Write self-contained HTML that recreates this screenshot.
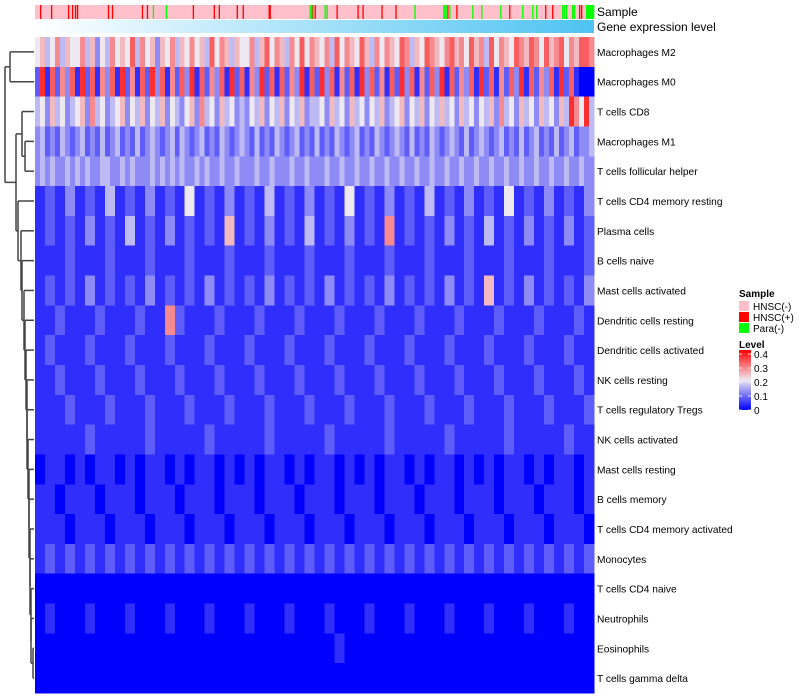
<!DOCTYPE html>
<html><head><meta charset="utf-8"><style>
body{margin:0;background:#fff;}
svg{display:block;font-family:"Liberation Sans",sans-serif;}
</style></head><body>
<svg id="chart" width="800" height="700"></svg>
<script>
// ---- data ----
const rowNames=["Macrophages M2","Macrophages M0","T cells CD8","Macrophages M1","T cells follicular helper","T cells CD4 memory resting","Plasma cells","B cells naive","Mast cells activated","Dendritic cells resting","Dendritic cells activated","NK cells resting","T cells regulatory  Tregs","NK cells activated","Mast cells resting","B cells memory","T cells CD4 memory activated","Monocytes","T cells CD4 naive","Neutrophils","Eosinophils","T cells gamma delta"];
// level per column bin, digit d -> d*0.04
const rowLevels=[
"5645746557463547565847563657465756485764655746857647585765748576586475765874658765786758674857658768758678576887",
"2918273819281738192718293817283918273819281739281827391829381728193827182938172839182738192817283918273819281000",
"4536453456374534563546354635435637453645343546354635463445364536453546345635463546453645354637453645364536497594",
"3423243234232423423242343234243234232432343242324323423242324323423243234324232432343242343234232423423242342334",
"3434334343433443343433343434343343433433433343343334334333433433433433433433433433433433433433433433433433433433",
"12131214121312151213121412131215121312141213121512131213",
"12121312141213121216121312141213121712121312141213121312",
"11121112111211121112111211121112111211121112111211121112",
"12121312121312121312121312121312121312121312161213121213",
"11211121112117211121112111211121112111211121112111211121",
"12111211121112111211121112111211121112111211121112111211",
"11211121112111211121112111211121112111211121112111211121",
"11121112111211121112111211121112111211121112111211121112",
"11111211111211111211111211111211111211111211111211111211",
"01101011010110101101010110101101010110101101010110101101",
"11011101110111011101110111011101110111011101110111011101",
"11101110111011101110111011101110111011101110111011101110",
"12121212121212121212121212121212121212121212121212121212",
"00000000000000000000000000000000000000000000000000000000",
"01000100010001000100010001000100010001000100010001000100",
"00000000000000000000000000000010000000000000000000000000",
"00000000000000000000000000000000000000000000000000000000"];
const numSamples=560;
const hnscPosIdx=[5,16,33,37,40,42,73,77,107,112,158,179,184,202,208,234,235,277,280,302,323,328,347,361,410,413,422,475,511,518,538,545,547];
const paraIdx=[118,131,275,278,290,292,380,409,410,412,415,438,447,466,488,498,502,528,530,532,538,540,552,553,554,555,556,557,558,559];
const levelTicks=[0,0.1,0.2,0.3,0.4];
const mergeX=[10,22,25,5,16,18,21,22,24,25,26,27,27,28,29,29,30,30,31,31,32,33];
// ---- layout ----
const NS="http://www.w3.org/2000/svg";
const svg=document.getElementById('chart');
const HX0=35,HX1=594,HY0=37,HY1=693;
const rowH=(HY1-HY0)/rowNames.length;
function yRow(i){return HY0+rowH*i;}
function xSample(i){return HX0+(HX1-HX0)*i/numSamples;}
function mk(tag,attrs,parent){const e=document.createElementNS(NS,tag);for(const k in attrs)e.setAttribute(k,attrs[k]);(parent||svg).appendChild(e);return e;}
function col(v){
  const t=Math.max(0,Math.min(1,v/0.4));
  let r,g,b;
  if(t<0.5){const u=t/0.5;r=Math.round(0+u*238);g=Math.round(0+u*232);b=Math.round(255-u*15);}
  else{const u=(t-0.5)/0.5;r=Math.round(238+u*17);g=Math.round(232-u*232);b=Math.round(240-u*240);}
  return `rgb(${r},${g},${b})`;
}
// annotation
const ann=mk('g',{});


mk('rect',{x:HX0,y:5,width:HX1-HX0,height:14,fill:'#ffc0cb'},ann);
hnscPosIdx.forEach(i=>{const r=mk('rect',{x:xSample(i),y:5,width:1.3,height:14,fill:'#ff0000'},ann);});
paraIdx.forEach(i=>{const r=mk('rect',{x:xSample(i),y:5,width:1.3,height:14,fill:'#00ff00'},ann);});
const defs=mk('defs',{});
const lg=mk('linearGradient',{id:'gexp',x1:0,x2:1,y1:0,y2:0},defs);
mk('stop',{offset:0,'stop-color':'#ffffff'},lg);mk('stop',{offset:1,'stop-color':'#4ec3f2'},lg);
const lg2=mk('linearGradient',{id:'lvl',x1:0,x2:0,y1:1,y2:0},defs);
[0,0.25,0.5,0.75,1].forEach(o=>mk('stop',{offset:o,'stop-color':col(o*0.4)},lg2));
const gbar=mk('rect',{x:HX0,y:20,width:HX1-HX0,height:13,fill:'url(#gexp)'});


const t1=mk('text',{x:597,y:16,'font-size':12});t1.textContent='Sample';


const t2=mk('text',{x:597,y:31,'font-size':12});t2.textContent='Gene expression level';


// heatmap cells
const hm=mk('g',{'shape-rendering':'crispEdges'});


rowLevels.forEach((s,ri)=>{
  const n=s.length,w=(HX1-HX0)/n;
  for(let j=0;j<n;j++){
    const v=parseInt(s[j],10)*0.04;
    const c=mk('rect',{x:HX0+j*w,y:yRow(ri),width:w+0.5,height:rowH+0.5,fill:col(v)},hm);
    
    
  }
  const t=mk('text',{x:597,y:yRow(ri)+rowH/2+4,'font-size':10.2,fill:'#000'});
  t.textContent=rowNames[ri];
  
  
});
// dendrogram
const dg=mk('g',{stroke:'#444','stroke-width':1.5,fill:'none'});


function cy(i){return yRow(i)+rowH/2;}
function seg(x1,y1,x2,y2){mk('line',{x1,y1,x2,y2},dg);}
const LX=34;
seg(mergeX[0],cy(0),LX,cy(0));seg(mergeX[0],cy(1),LX,cy(1));seg(mergeX[0],cy(0),mergeX[0],cy(1));
const n01=(cy(0)+cy(1))/2;
seg(mergeX[2],cy(3),LX,cy(3));seg(mergeX[2],cy(4),LX,cy(4));seg(mergeX[2],cy(3),mergeX[2],cy(4));
const n34=(cy(3)+cy(4))/2;
seg(mergeX[1],cy(2),LX,cy(2));seg(mergeX[1],n34,mergeX[2],n34);seg(mergeX[1],cy(2),mergeX[1],n34);
const n234=(cy(2)+n34)/2;
let nx, ny;
let prevX=mergeX[21];
seg(prevX,cy(21),LX,cy(21));seg(prevX,cy(20),LX,cy(20));seg(prevX,cy(20),prevX,cy(21));
ny=(cy(20)+cy(21))/2;nx=prevX;
for(let i=19;i>=5;i--){
  const mx=mergeX[i];
  seg(mx,cy(i),LX,cy(i));seg(mx,ny,nx,ny);seg(mx,cy(i),mx,ny);
  ny=(cy(i)+ny)/2;nx=mx;
}
seg(mergeX[4],n234,mergeX[1],n234);seg(mergeX[4],ny,nx,ny);seg(mergeX[4],n234,mergeX[4],ny);
const nr=(n234+ny)/2;
seg(mergeX[3],n01,mergeX[0],n01);seg(mergeX[3],nr,mergeX[4],nr);seg(mergeX[3],n01,mergeX[3],nr);
// legend
const lgG=mk('g',{});


const ls=mk('text',{x:739,y:297,'font-size':10,'font-weight':'bold'},lgG);ls.textContent='Sample';
[['HNSC(-)','#ffc0cb'],['HNSC(+)','#ff0000'],['Para(-)','#00ff00']].forEach((e,i)=>{
  const g=mk('g',{},lgG);
  
  
  mk('rect',{x:739,y:301+i*11,width:10,height:10,fill:e[1]},g);
  const t=mk('text',{x:753,y:310+i*11,'font-size':10},g);t.textContent=e[0];
});
const ll=mk('text',{x:739,y:348,'font-size':10,'font-weight':'bold'},lgG);ll.textContent='Level';
mk('rect',{x:739,y:350,width:12,height:60,fill:'url(#lvl)'},lgG);
levelTicks.forEach(v=>{
  const y=410-v/0.4*56;
  mk('line',{x1:739,x2:742,y1:y,y2:y,stroke:'#fff','stroke-width':0.8},lgG);
  mk('line',{x1:748,x2:751,y1:y,y2:y,stroke:'#fff','stroke-width':0.8},lgG);
  const t=mk('text',{x:754,y:y+4,'font-size':10},lgG);t.textContent=String(v);
  
  
});
</script>
</body></html>
